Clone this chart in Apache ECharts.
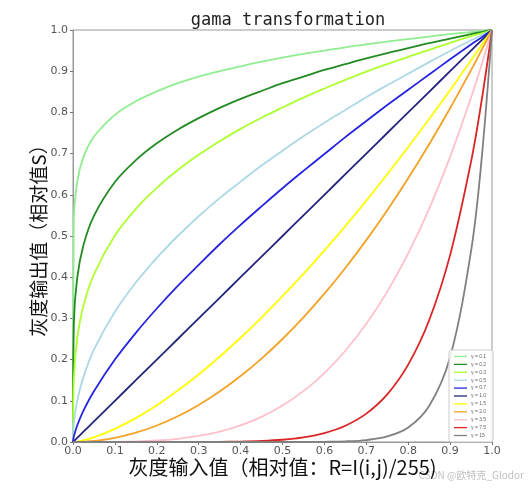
<!DOCTYPE html>
<html><head><meta charset="utf-8">
<script src="https://cdn.jsdelivr.net/npm/echarts@6/dist/echarts.min.js"></script>
<style>html,body{margin:0;padding:0;background:#fff}#c{width:528px;height:489px}</style>
</head><body><div id="c"></div>
<script>
const xs = [0, 0.002, 0.01, 0.025, 0.05, 0.1, 0.15, 0.2, 0.25, 0.3, 0.35, 0.4, 0.45, 0.5, 0.55, 0.6, 0.65, 0.7, 0.75, 0.8, 0.85, 0.9, 0.95, 0.975, 1];
const g01 = [0, 0.537, 0.631, 0.692, 0.741, 0.794, 0.827, 0.851, 0.871, 0.887, 0.900, 0.912, 0.923, 0.933, 0.942, 0.950, 0.958, 0.965, 0.972, 0.978, 0.984, 0.990, 0.995, 0.997, 1];
const g02 = [0, 0.289, 0.398, 0.478, 0.549, 0.631, 0.684, 0.725, 0.758, 0.786, 0.811, 0.833, 0.852, 0.871, 0.887, 0.903, 0.917, 0.931, 0.944, 0.956, 0.968, 0.979, 0.990, 0.995, 1];
const g03 = [0, 0.155, 0.251, 0.331, 0.407, 0.501, 0.566, 0.617, 0.660, 0.697, 0.730, 0.760, 0.787, 0.812, 0.836, 0.858, 0.879, 0.899, 0.917, 0.935, 0.952, 0.969, 0.985, 0.992, 1];
const g05 = [0, 0.045, 0.100, 0.158, 0.224, 0.316, 0.387, 0.447, 0.500, 0.548, 0.592, 0.632, 0.671, 0.707, 0.742, 0.775, 0.806, 0.837, 0.866, 0.894, 0.922, 0.949, 0.975, 0.987, 1];
const g07 = [0, 0.013, 0.040, 0.076, 0.123, 0.200, 0.265, 0.324, 0.379, 0.430, 0.480, 0.527, 0.572, 0.616, 0.658, 0.699, 0.740, 0.779, 0.818, 0.855, 0.892, 0.929, 0.965, 0.982, 1];
const g10 = [0, 0.002, 0.01, 0.025, 0.05, 0.1, 0.15, 0.2, 0.25, 0.3, 0.35, 0.4, 0.45, 0.5, 0.55, 0.6, 0.65, 0.7, 0.75, 0.8, 0.85, 0.9, 0.95, 0.975, 1];
const g15 = [0, 0.0001, 0.001, 0.004, 0.011, 0.032, 0.058, 0.089, 0.125, 0.164, 0.207, 0.253, 0.302, 0.354, 0.408, 0.465, 0.524, 0.586, 0.650, 0.716, 0.784, 0.854, 0.926, 0.963, 1];
const g20 = [0, 0, 0.0001, 0.0006, 0.0025, 0.01, 0.0225, 0.04, 0.0625, 0.09, 0.1225, 0.16, 0.2025, 0.25, 0.3025, 0.36, 0.4225, 0.49, 0.5625, 0.64, 0.7225, 0.81, 0.9025, 0.951, 1];
const g35 = [0, 0, 0, 0, 0, 0.0003, 0.0013, 0.0036, 0.0078, 0.0148, 0.0254, 0.0405, 0.0611, 0.0884, 0.1234, 0.1673, 0.2214, 0.287, 0.365, 0.458, 0.566, 0.692, 0.836, 0.915, 1];
const g75 = [0, 0, 0, 0, 0, 0, 0, 0, 0, 0.0001, 0.0004, 0.001, 0.0025, 0.0055, 0.0113, 0.0217, 0.0395, 0.0689, 0.1156, 0.1877, 0.2955, 0.4536, 0.6806, 0.827, 1];
const g150 = [0, 0, 0, 0, 0, 0, 0, 0, 0, 0, 0, 0, 0, 0, 0.0001, 0.0005, 0.0016, 0.0048, 0.0134, 0.0352, 0.0874, 0.2059, 0.4633, 0.684, 1];
const names = ['γ = 0.1','γ = 0.2','γ = 0.3','γ = 0.5','γ = 0.7','γ = 1.0','γ = 1.5','γ = 2.0','γ = 3.5','γ = 7.5','γ = 15'];
const colors = ['#90ee90','#228b22','#adff2f','#add8e6','#2424e0','#24247e','#ffff00','#f4a225','#ffc0cb','#dc2424','#808080'];
const values = [g01,g02,g03,g05,g07,g10,g15,g20,g35,g75,g150];
const xTicks = ['0.0','0.1','0.2','0.3','0.4','0.5','0.6','0.7','0.8','0.9','1.0'];

const chart = echarts.init(document.getElementById('c'));
const axisCommon = {
  min: 0, max: 1, interval: 0.1,
  axisLine: {show: true, lineStyle: {color: '#999', width: 1}},
  axisTick: {show: true, length: 3, lineStyle: {color: '#777'}},
  splitLine: {show: false},
  axisLabel: {color: '#555', fontSize: 11, fontFamily: 'DejaVu Sans', formatter: v => xTicks[Math.round(v * 10)]}
};
chart.setOption({
  animation: false,
  title: {text: 'gama transformation', left: 283, textAlign: 'center', top: 7,
    textStyle: {fontFamily: 'DejaVu Sans Mono', fontSize: 17, fontWeight: 'normal', color: '#222'}},
  grid: {left: 73, right: 36, top: 30, bottom: 47, show: true, borderColor: '#999', borderWidth: 1},
  legend: {
    orient: 'vertical', left: 449, top: 350, data: names,
    itemWidth: 13, itemHeight: 5, itemGap: 2.9, padding: [4, 7, 4, 5],
    backgroundColor: 'rgba(255,255,255,0.85)', borderColor: '#ccc', borderWidth: 1, borderRadius: 2,
    textStyle: {fontSize: 5, color: '#666', lineHeight: 5, padding: [0, 0, 0, -1]},
    icon: 'path://M0,0 L10,0 L10,1 L0,1 Z'
  },
  xAxis: Object.assign({type: 'value', name: '灰度输入值（相对值：R=I(i,j)/255)', nameLocation: 'middle', nameGap: 15, nameMoveOverlap: false,
    nameTextStyle: {fontSize: 20, color: '#111', fontFamily: 'Noto Sans CJK SC'}}, axisCommon,
    {axisLabel: Object.assign({}, axisCommon.axisLabel, {margin: 4})}),
  yAxis: Object.assign({type: 'value', name: '灰度输出值（相对值S）', nameLocation: 'middle', nameGap: 25, nameMoveOverlap: false,
    nameTextStyle: {fontSize: 19, color: '#111', fontFamily: 'Noto Sans CJK SC'}}, axisCommon,
    {axisLabel: Object.assign({}, axisCommon.axisLabel, {margin: 5})}),
  graphic: [{type: 'text', right: 4, top: 470, style: {text: 'CSDN @欧特克_Glodor', fill: '#c0c0c0', fontSize: 10, fontFamily: 'Noto Sans CJK SC'}}],
  series: values.map((arr, k) => ({
    name: names[k], type: 'line', showSymbol: false, smooth: 0.35,
    color: colors[k],
    lineStyle: {width: 1.8, color: colors[k]},
    data: xs.map((x, i) => [x, arr[i]])
  }))
});
</script></body></html>
